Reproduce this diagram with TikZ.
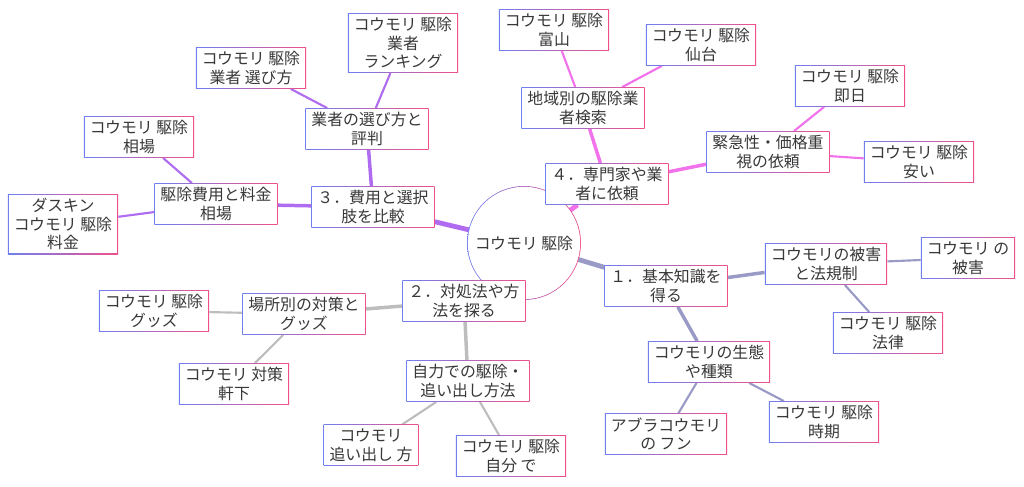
\documentclass[tikz,border=0pt]{standalone}
\usepackage{fontspec}
\setmainfont{Noto Sans CJK JP}
\usetikzlibrary{backgrounds}
\definecolor{bb}{HTML}{6F7FF0}
\definecolor{pk}{HTML}{F0508A}
\definecolor{cP}{HTML}{B06CF0}
\definecolor{cM}{HTML}{F272EC}
\definecolor{cS}{HTML}{9A9AC6}
\definecolor{cG}{HTML}{BDBDBD}
\tikzset{
  bx/.style={align=center, inner xsep=4.5pt, inner ysep=3pt, font=\fontsize{11.9}{14}\selectfont, text=black!78,
    path picture={\shade[left color=bb,right color=pk] (path picture bounding box.south west) rectangle (path picture bounding box.north east);
      \fill[white] ([shift={(0.55pt,0.55pt)}]path picture bounding box.south west) rectangle ([shift={(-0.55pt,-0.55pt)}]path picture bounding box.north east);}},
  e0/.style={line width=3.6pt},
  e1/.style={line width=2.6pt},
  e2/.style={line width=1.6pt},
}
\begin{document}
\begin{tikzpicture}[x=0.75pt,y=-0.75pt]
\useasboundingbox (0,0) rectangle (1024,486);
% center
\shade[left color=bb,right color=pk] (524,243) circle (57);
\fill[white] (524,243) circle (56.2);
\node[font=\fontsize{11.9}{14}\selectfont,text=black!78] (c) at (524,243) {コウモリ 駆除};
\coordinate (cc) at (524,243);
\node[bx] (n3) at (373,207) {３．費用と選択\\肢を比較};
\node[bx] (n4) at (607,184) {４．専門家や業\\者に依頼};
\node[bx] (n1) at (666,286) {１．基本知識を\\得る};
\node[bx] (n2) at (464,301) {２．対処法や方\\法を探る};
\node[bx] (a1) at (367,129) {業者の選び方と\\評判};
\node[bx] (a11) at (251,68) {コウモリ 駆除\\業者 選び方};
\node[bx] (a12) at (403,43) {コウモリ 駆除\\業者\\ランキング};
\node[bx] (a2) at (216,204) {駆除費用と料金\\相場};
\node[bx] (a21) at (139,137) {コウモリ 駆除\\相場};
\node[bx] (a22) at (63,224) {ダスキン\\コウモリ 駆除\\料金};
\node[bx] (b1) at (583,108) {地域別の駆除業\\者検索};
\node[bx] (b11) at (554,30) {コウモリ 駆除\\富山};
\node[bx] (b12) at (701,45) {コウモリ 駆除\\仙台};
\node[bx] (b2) at (768,152) {緊急性・価格重\\視の依頼};
\node[bx] (b21) at (850,86) {コウモリ 駆除\\即日};
\node[bx] (b22) at (919,162) {コウモリ 駆除\\安い};
\node[bx] (d1) at (826,264) {コウモリの被害\\と法規制};
\node[bx] (d11) at (968,258) {コウモリ の\\被害};
\node[bx] (d12) at (888,333) {コウモリ 駆除\\法律};
\node[bx] (d2) at (709,362) {コウモリの生態\\や種類};
\node[bx] (d21) at (666,434) {アブラコウモリ\\の フン};
\node[bx] (d22) at (824,422) {コウモリ 駆除\\時期};
\node[bx] (g1) at (304,314) {場所別の対策と\\グッズ};
\node[bx] (g11) at (154,311) {コウモリ 駆除\\グッズ};
\node[bx] (g12) at (234,384) {コウモリ 対策\\軒下};
\node[bx] (g2) at (468,381) {自力での駆除・\\追い出し方法};
\node[bx] (g21) at (371,445) {コウモリ\\追い出し 方};
\node[bx] (g22) at (511,456) {コウモリ 駆除\\自分 で};
\begin{scope}[on background layer]
\draw[e0,cP] (cc) -- (n3);
\draw[e0,cM] (cc) -- (n4);
\draw[e0,cS] (cc) -- (n1);
\draw[e0,cG] (cc) -- (n2);
\draw[e1,cP] (n3) -- (a1); \draw[e1,cP] (n3) -- (a2);
\draw[e2,cP] (a1) -- (a11); \draw[e2,cP] (a1) -- (a12);
\draw[e2,cP] (a2) -- (a21); \draw[e2,cP] (a2) -- (a22);
\draw[e1,cM] (n4) -- (b1); \draw[e1,cM] (n4) -- (b2);
\draw[e2,cM] (b1) -- (b11); \draw[e2,cM] (b1) -- (b12);
\draw[e2,cM] (b2) -- (b21); \draw[e2,cM] (b2) -- (b22);
\draw[e1,cS] (n1) -- (d1); \draw[e1,cS] (n1) -- (d2);
\draw[e2,cS] (d1) -- (d11); \draw[e2,cS] (d1) -- (d12);
\draw[e2,cS] (d2) -- (d21); \draw[e2,cS] (d2) -- (d22);
\draw[e1,cG] (n2) -- (g1); \draw[e1,cG] (n2) -- (g2);
\draw[e2,cG] (g1) -- (g11); \draw[e2,cG] (g1) -- (g12);
\draw[e2,cG] (g2) -- (g21); \draw[e2,cG] (g2) -- (g22);
\end{scope}
\end{tikzpicture}
\end{document}
